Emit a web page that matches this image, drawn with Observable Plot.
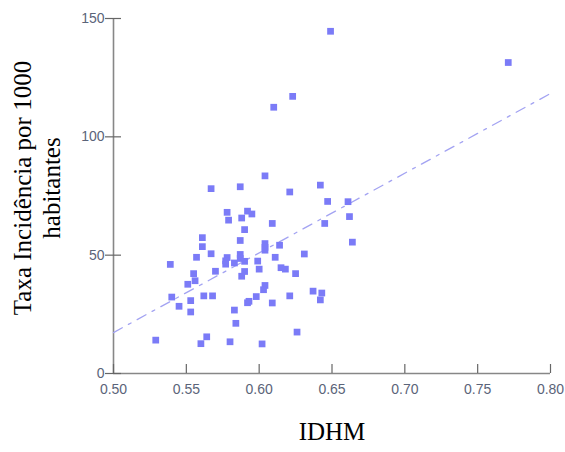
<!DOCTYPE html>
<html>
<head>
<meta charset="utf-8">
<script src="https://cdn.jsdelivr.net/npm/d3@7"></script>
<script src="https://cdn.jsdelivr.net/npm/@observablehq/plot@0.6"></script>
<style>
  html, body { margin: 0; padding: 0; background: #fff; }
  #chart svg { display: block; }
</style>
</head>
<body>
<div id="chart"></div>
<script>
// IDHM values (x) and incidence rate per 1000 inhabitants (y)
const idhm = [
  0.649, 0.771, 0.623, 0.610, 0.604, 0.567, 0.587, 0.621, 0.642, 0.647,
  0.661, 0.578, 0.579, 0.592, 0.595, 0.588, 0.609, 0.645, 0.662, 0.664,
  0.590, 0.561, 0.561, 0.587, 0.604, 0.604, 0.604, 0.614, 0.631, 0.557,
  0.567, 0.539, 0.578, 0.577, 0.577, 0.583, 0.587, 0.587, 0.590, 0.599,
  0.611, 0.555, 0.556, 0.570, 0.590, 0.588, 0.600, 0.615, 0.618, 0.625,
  0.551, 0.540, 0.553, 0.562, 0.568, 0.545, 0.553, 0.604, 0.603, 0.598,
  0.592, 0.593, 0.609, 0.621, 0.637, 0.643, 0.642, 0.583, 0.584, 0.529,
  0.564, 0.560, 0.580, 0.602, 0.626
];
const taxa = [
  144.6, 131.4, 117.1, 112.5, 83.5, 78.1, 78.9, 76.7, 79.6, 72.7,
  72.6, 68.1, 64.8, 68.6, 67.4, 65.7, 63.4, 63.4, 66.3, 55.5,
  60.8, 57.4, 53.6, 56.2, 54.9, 53.3, 52.1, 54.2, 50.5, 49.1,
  50.6, 46.1, 49.0, 47.6, 46.2, 46.7, 50.3, 48.6, 47.4, 47.5,
  49.1, 42.2, 39.2, 43.2, 43.1, 41.1, 44.1, 44.7, 44.1, 42.2,
  37.7, 32.3, 30.8, 32.8, 32.8, 28.4, 26.0, 37.2, 35.4, 32.5,
  29.9, 30.5, 29.8, 32.8, 34.8, 34.0, 31.1, 26.8, 21.2, 14.1,
  15.5, 12.6, 13.4, 12.5, 17.5
];
// trend line end points
const trendX = [0.50, 0.80];
const trendY = [17.3, 118.3];

const xTicks = [0.50, 0.55, 0.60, 0.65, 0.70, 0.75, 0.80];
const yTicks = [0, 50, 100, 150];
const xDomain = [0.50, 0.80];
const yDomain = [0, 150];

const yTitle = "Taxa Incidência por 1000\nhabitantes";
const xTitle = "IDHM";

const points = idhm.map((x, i) => ({x, y: taxa[i]}));
const trend = trendX.map((x, i) => ({x, y: trendY[i]}));

const axisColor = "#878787";
const labelColor = "#5b6479";
const sans = "'Liberation Sans', Arial, sans-serif";
const serif = "'Liberation Serif', 'Times New Roman', serif";

const chart = Plot.plot({
  width: 565,
  height: 452,
  marginLeft: 113,
  marginRight: 15,
  marginTop: 18,
  marginBottom: 79,
  style: {background: "#fff", fontFamily: sans},
  x: {domain: xDomain, ticks: xTicks, label: null},
  y: {domain: yDomain, ticks: yTicks, label: null},
  marks: [
    // axis lines
    Plot.ruleY([yDomain[0]], {stroke: axisColor, strokeWidth: 1.6}),
    Plot.ruleX([xDomain[0]], {stroke: axisColor, strokeWidth: 1.6}),
    // x ticks (inside) and labels
    Plot.axisX({ticks: xTicks, tickSize: 9, dy: -9, tickFormat: () => "", label: null,
      stroke: "#666", strokeWidth: 1.2}),
    Plot.axisX({ticks: xTicks, tickSize: 0, tickPadding: 11, tickFormat: d => d.toFixed(2),
      fill: labelColor, fontSize: 14, fontFamily: sans, label: null}),
    // y ticks (crossing) and labels
    Plot.axisY({ticks: yTicks, tickSize: 16, dx: 8, tickFormat: () => "", label: null,
      stroke: "#666", strokeWidth: 1.2}),
    Plot.axisY({ticks: yTicks, tickSize: 0, tickPadding: 9, tickFormat: d => String(d),
      fill: labelColor, fontSize: 14, fontFamily: sans, label: null}),
    // trend line
    Plot.line(trend, {x: "x", y: "y", stroke: "#a3a3f2", strokeWidth: 1.3,
      strokeDasharray: "10,7,3,7"}),
    // points
    Plot.dot(points, {x: "x", y: "y", symbol: "square", r: 3.8, fill: "#7b7bf7", stroke: "none"}),
    // titles
    Plot.text([yTitle], {frameAnchor: "left", text: d => d, rotate: -90, dx: -77, dy: -8,
      fontFamily: serif, fontSize: 25, fill: "#000", lineHeight: 1.17, textAnchor: "middle"}),
    Plot.text([xTitle], {frameAnchor: "bottom", text: d => d, dy: 66,
      fontFamily: serif, fontSize: 25, fill: "#000", textAnchor: "middle"})
  ]
});
document.getElementById("chart").appendChild(chart);
</script>
</body>
</html>
